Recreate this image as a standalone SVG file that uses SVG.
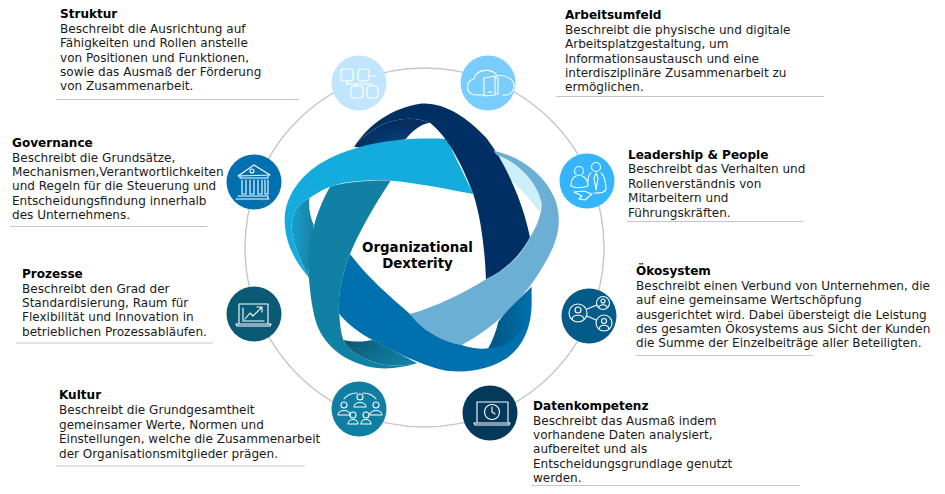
<svg xmlns="http://www.w3.org/2000/svg" width="945" height="494" viewBox="0 0 945 494">
<style>
text{font-family:"DejaVu Sans",Verdana,sans-serif;font-size:12.05px;fill:#1a1a1a}
.h{font-weight:700;fill:#000}
.c{font-weight:700;fill:#000;font-size:13.4px;text-anchor:middle}
.r{stroke:#c4c5d0;stroke-width:1;fill:none}
.i{fill:none;stroke:#fff;stroke-width:1.1;stroke-linecap:round;stroke-linejoin:round}
</style>
<defs>
<radialGradient id="g1" cx=".6" cy=".75" r=".6"><stop offset="0" stop-color="#04417f"/><stop offset="1" stop-color="#062d5e"/></radialGradient>
<linearGradient id="g2" x1="0" y1="0" x2="1" y2="0"><stop offset="0" stop-color="#14a0cc"/><stop offset="1" stop-color="#1a7fa5"/></linearGradient>
<linearGradient id="g3" x1="0" y1="0" x2="1" y2=".5"><stop offset="0" stop-color="#0f5670"/><stop offset="1" stop-color="#1080a4"/></linearGradient>
<linearGradient id="g4" x1="0" y1="0" x2="1" y2="0"><stop offset="0" stop-color="#02557f"/><stop offset="1" stop-color="#0070ae"/></linearGradient>
</defs>
<g id="connectors"><circle cx="424.5" cy="247.5" r="179.5" fill="none" stroke="#c6c6c6" stroke-width="1.4"/></g>
<g id="ribbon" transform="translate(280 90) scale(.3333)">
<path fill="#cdeffa" d="M645 188C710 210 770 260 787 325L778 366C745 320 710 285 675 255Z"/>
<path fill="url(#g1)" d="M222 170C290 90 380 70 450 98C420 102 395 125 378 146L300 180Z"/>
<path fill="url(#g2)" d="M88 325C85 350 90 380 101 405L85 545 88 565C65 520 42 470 36 425C30 385 45 345 88 325Z"/>
<path fill="#1080a4" d="M150 290C190 278 260 270 332 272C280 350 235 430 210 492C185 555 172 620 178 675C180 705 183 730 190 750C205 785 250 808 300 822C335 830 375 828 412 820C370 832 330 838 290 834C210 824 145 780 115 715C98 675 90 610 85 545C85 450 105 370 150 290Z"/>
<path fill="url(#g3)" d="M190 750C225 757 255 755 278 750L412 820C375 828 335 830 300 822C250 808 205 785 190 750Z"/>
<path fill="#14acdc" d="M88 565C40 510 14 450 14 390C14 320 60 255 130 215C230 160 360 140 500 147L580 312C490 295 420 280 335 272C260 268 190 275 150 290C125 300 105 312 88 325C45 345 30 385 36 425C42 470 65 520 88 565Z"/>
<path fill="#003063" d="M222 170C270 100 335 55 420 41C490 35 560 80 620 145C680 225 730 340 750 442C720 500 670 545 618 568C615 490 605 390 580 312C555 245 510 145 450 98C380 70 290 90 222 170Z"/>
<path fill="#6cafd5" d="M640 182C720 198 790 250 822 320C850 385 835 450 800 510C740 620 650 710 545 765C490 755 430 725 390 672C470 650 550 610 618 568C680 540 730 490 750 442C770 410 785 375 785 340C775 280 715 215 650 195Z"/>
<path fill="#0070ae" d="M210 492C260 560 330 620 390 672C430 725 490 755 545 765C575 775 600 778 625 775L755 640C755 710 730 770 680 805C630 838 565 850 500 842C440 832 350 790 278 750C240 730 205 705 178 672C172 620 185 555 210 492Z"/>
<path fill="url(#g4)" d="M755 590C715 630 680 660 655 695C648 725 638 750 625 775C680 775 740 740 755 640Z"/>
</g>
<g id="center"><text class="c" x="417.500" y="252">Organizational</text><text class="c" x="417.500" y="268">Dexterity</text></g>
<g id="node-struktur"><circle cx="359" cy="83" r="27.500" fill="#bfe6fd"/><g class="i"><rect x="341" y="69" width="12" height="12" rx="3"/><rect x="358" y="69" width="11" height="12" rx="3"/><rect x="351" y="86" width="12" height="12" rx="3"/><rect x="367" y="86" width="11" height="12" rx="3"/><path d="M369 76h7M347 81v3h25v2M356 84v2"/></g>
<text class="h" x="60" y="18">Struktur</text><text x="60" y="32.500">Beschreibt die Ausrichtung auf</text><text x="60" y="47">Fähigkeiten und Rollen anstelle</text><text x="60" y="62">von Positionen und Funktionen,</text><text x="60" y="76">sowie das Ausmaß der Förderung</text><text x="60" y="90">von Zusammenarbeit.</text><path class="r" d="M56 99.500H299"/></g>
<g id="node-arbeitsumfeld"><circle cx="488" cy="83" r="27.500" fill="#79cdfd"/><g class="i"><path d="M484 95h-8c-11 0-11-15-2-16 2-11 20-11 23-3 9-2 18 4 17 11-1 5-4 8-8 8h-3"/><path d="M484 78l11-2v19l-11 1zM495 78h3v16h-3"/><path d="M488 92h4"/></g>
<text class="h" x="565" y="19">Arbeitsumfeld</text><text x="565" y="34">Beschreibt die physische und digitale</text><text x="565" y="48">Arbeitsplatzgestaltung, um</text><text x="565" y="62.500">Informationsaustausch und eine</text><text x="565" y="77">interdisziplinäre Zusammenarbeit zu</text><text x="565" y="91">ermöglichen.</text><path class="r" d="M556 96.500H824"/></g>
<g id="node-leadership"><circle cx="587" cy="181" r="27.500" fill="#35b5ff"/><g class="i"><circle cx="596" cy="167" r="4.500"/><circle cx="579" cy="171" r="4.500"/><path d="M591 173c-4 2-3 10-3 12M601 173c4 3 5 12 5 16-1 4-6 4-12 4M571 186c0-6 2-9 5-10M582 176c5 2 6 7 6 10-6 2-13 2-17 0M596 173l-2 5 2 12 2-12zM574 192l8 4-3 3 6 1 7-6-8-3z"/></g>
<text class="h" x="628" y="159">Leadership &amp; People</text><text x="628" y="173">Beschreibt das Verhalten und</text><text x="628" y="188">Rollenverständnis von</text><text x="628" y="202">Mitarbeitern und</text><text x="628" y="216.500">Führungskräften.</text><path class="r" d="M627 221.500H803"/></g>
<g id="node-oekosystem"><circle cx="589" cy="316" r="27.500" fill="#045a88"/><g class="i"><circle cx="578" cy="313" r="9"/><circle cx="603" cy="303" r="6.500"/><circle cx="604" cy="323" r="8"/><circle cx="578" cy="310" r="3"/><circle cx="603" cy="301" r="2"/><circle cx="604" cy="321" r="2.500"/><path d="M572 319c1-5 11-5 12 0M599 307c1-3 7-3 8 0M599 329c1-5 9-5 10 0M587 309l10-4M587 316l9 4"/></g>
<text class="h" x="636" y="275">Ökosystem</text><text x="636" y="290">Beschreibt einen Verbund von Unternehmen, die</text><text x="636" y="304">auf eine gemeinsame Wertschöpfung</text><text x="636" y="318.500">ausgerichtet wird. Dabei übersteigt die Leistung</text><text x="636" y="333">des gesamten Ökosystems aus Sicht der Kunden</text><text x="636" y="347">die Summe der Einzelbeiträge aller Beteiligten.</text><path class="r" d="M636 355.500H813"/></g>
<g id="node-daten"><circle cx="490" cy="413" r="27.500" fill="#04395c"/><g class="i"><path d="M477 422v-20h31v20M474 423h36l-1 2h-34z"/><circle cx="492" cy="412" r="7.500"/><path d="M492 407v5l3 2"/></g>
<text class="h" x="533" y="410">Datenkompetenz</text><text x="533" y="424.500">Beschreibt das Ausmaß indem</text><text x="533" y="439">vorhandene Daten analysiert,</text><text x="533" y="453">aufbereitet und als</text><text x="533" y="468">Entscheidungsgrundlage genutzt</text><text x="533" y="482">werden.</text><path class="r" d="M531 485.500H800"/></g>
<g id="node-kultur"><circle cx="359" cy="409" r="27.500" fill="#0f7ea2"/><g class="i"><circle cx="360" cy="397" r="3"/><circle cx="344" cy="405" r="3"/><circle cx="376" cy="405" r="3"/><circle cx="353" cy="415" r="3"/><circle cx="366" cy="415" r="3"/><path d="M354 407c0-6 12-6 12 0zM338 415c0-6 12-6 12 0zM370 415c0-6 12-6 12 0zM348 424c0-6 10-6 10 0zM361 424c0-6 10-6 10 0zM344 399c3-4 8-6 13-6M376 399c-3-4-8-6-13-6"/></g>
<text class="h" x="59" y="399">Kultur</text><text x="59" y="414">Beschreibt die Grundgesamtheit</text><text x="59" y="428.500">gemeinsamer Werte, Normen und</text><text x="59" y="443">Einstellungen, welche die Zusammenarbeit</text><text x="59" y="457.500">der Organisationsmitglieder prägen.</text><path class="r" d="M56 466H305" stroke-width="1.500"/></g>
<g id="node-prozesse"><circle cx="254" cy="314" r="27.500" fill="#0b5a75"/><g class="i"><path d="M239 323v-19h29v19M236 324h35l-1 2h-33z"/><path d="M243 308v13h21M245 319l5-6 3 3 8-8M257 307h5v5"/></g>
<text class="h" x="22" y="278">Prozesse</text><text x="22" y="292.500">Beschreibt den Grad der</text><text x="22" y="307">Standardisierung, Raum für</text><text x="22" y="321">Flexibilität und Innovation in</text><text x="22" y="335.500">betrieblichen Prozessabläufen.</text><path class="r" d="M16 343H213" stroke-width="1.500"/></g>
<g id="node-governance"><circle cx="254" cy="182" r="27.500" fill="#0070ae"/><g class="i"><path d="M238 176l16-11 16 10zM240 176v2h28v-3M242 180v14h4v-14M250 180v14h4v-14M258 180v14h4v-14M265 180v14h3v-14M238 196h30v2M236 199h33"/><circle cx="252" cy="171" r="2"/></g>
<text class="h" x="12" y="147">Governance</text><text x="12" y="161.500">Beschreibt die Grundsätze,</text><text x="12" y="176">Mechanismen,Verantwortlichkeiten</text><text x="12" y="190">und Regeln für die Steuerung und</text><text x="12" y="205">Entscheidungsfindung innerhalb</text><text x="12" y="219">des Unternehmens.</text><path class="r" d="M10 226.500H207"/></g>
</svg>
